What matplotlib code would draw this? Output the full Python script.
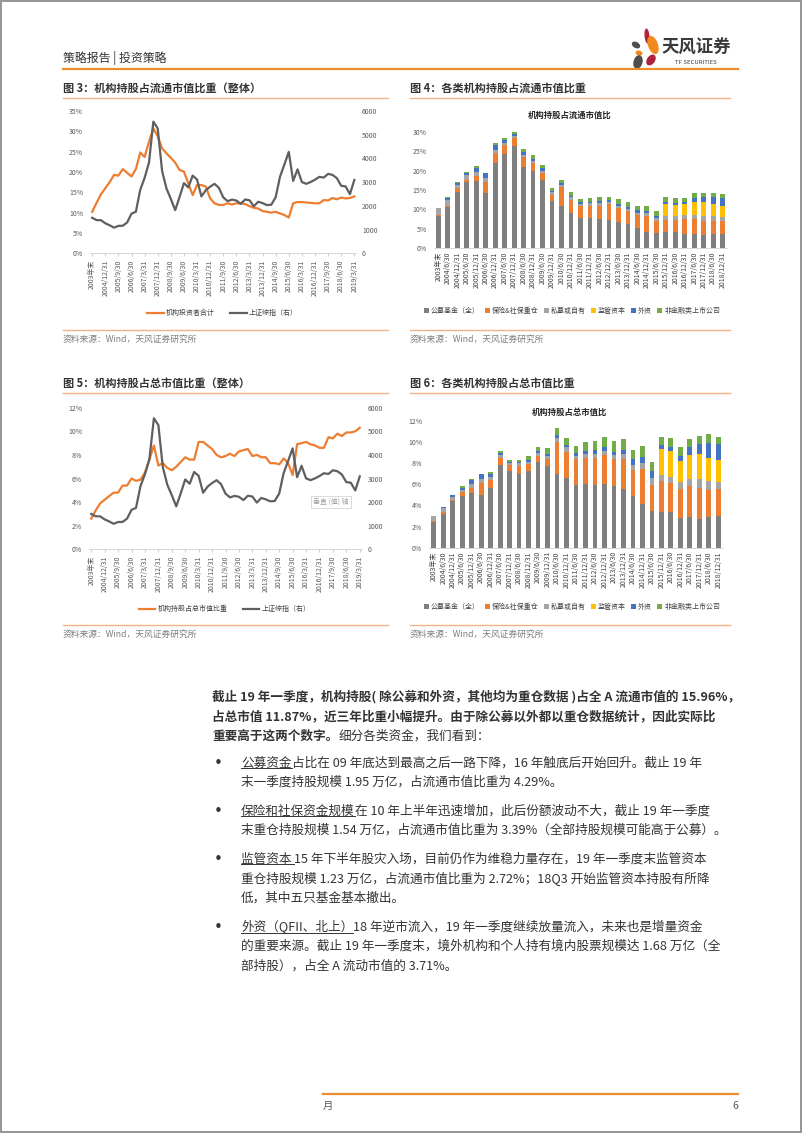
import numpy as np
import matplotlib.pyplot as plt
from matplotlib.patches import Ellipse, Rectangle
from matplotlib.lines import Line2D
from matplotlib.ticker import FuncFormatter

plt.rcParams['font.family'] = ['Noto Sans CJK SC', 'DejaVu Sans']

W, H = 802, 1133

# ---- line charts (quarterly, 2003年末 .. 2019/3/31) ----
line_ticks = ['2003年末', '2004/12/31', '2005/9/30', '2006/6/30', '2007/3/31', '2007/12/31',
              '2008/9/30', '2009/6/30', '2010/3/31', '2010/12/31', '2011/9/30', '2012/6/30',
              '2013/3/31', '2013/12/31', '2014/9/30', '2015/6/30', '2016/3/31', '2016/12/31',
              '2017/9/30', '2018/6/30', '2019/3/31']
inst_float = [10.2, 12.4, 14.5, 16.0, 17.5, 19.3, 19.1, 20.7, 19.8, 18.9, 20.7, 24.8, 23.7,
              27.4, 30.7, 28.8, 25.8, 24.6, 23.5, 22.3, 20.5, 20.1, 17.2, 14.3, 16.8, 16.8,
              16.4, 13.5, 12.3, 11.9, 11.9, 12.3, 12.0, 12.3, 12.3, 12.1, 11.6, 11.2, 11.0,
              10.4, 10.2, 10.0, 10.2, 9.8, 9.4, 8.8, 12.3, 12.6, 12.6, 12.5, 12.4, 12.3, 12.3,
              13.1, 13.0, 13.6, 13.3, 13.7, 13.5, 13.6, 14.0]
inst_total = [2.6, 3.3, 3.9, 4.2, 4.5, 4.8, 4.8, 5.4, 5.4, 6.0, 5.8, 5.9, 6.5, 7.6, 8.8, 7.1,
              7.3, 6.9, 6.7, 7.0, 7.4, 7.8, 7.6, 7.6, 9.1, 9.1, 8.8, 8.5, 8.0, 7.8, 7.9, 8.1,
              7.9, 8.3, 8.4, 8.5, 7.9, 8.0, 7.8, 7.8, 7.3, 7.3, 7.2, 7.7, 7.3, 6.3, 8.9, 9.0,
              9.1, 8.9, 8.8, 8.6, 8.6, 9.5, 9.4, 9.8, 9.6, 9.9, 9.9, 10.0, 10.3]
sse = [1497, 1399, 1396, 1266, 1181, 1081, 1156, 1161, 1299, 1672, 1753, 2675, 3183, 3821,
       5552, 5262, 3473, 2736, 2293, 1821, 2373, 2959, 2779, 3277, 3110, 2398, 2656, 2808,
       2928, 2762, 2359, 2199, 2263, 2225, 2086, 2269, 2237, 1979, 2175, 2116, 2033, 2048,
       2364, 3235, 3748, 4277, 3053, 3539, 3004, 2930, 3005, 3104, 3223, 3192, 3349, 3307,
       3169, 2847, 2821, 2494, 3091]

# ---- stacked bars (half-yearly) ----
bar_dates = ['2003年末', '2004/6/30', '2004/12/31', '2005/6/30', '2005/12/31', '2006/6/30',
             '2006/12/31', '2007/6/30', '2007/12/31', '2008/6/30', '2008/12/31', '2009/6/30',
             '2009/12/31', '2010/6/30', '2010/12/31', '2011/6/30', '2011/12/31', '2012/6/30',
             '2012/12/31', '2013/6/30', '2013/12/31', '2014/6/30', '2014/12/31', '2015/6/30',
             '2015/12/31', '2016/6/30', '2016/12/31', '2017/6/30', '2017/12/31', '2018/6/30',
             '2018/12/31']
series_names = ['公募基金（全）', '保险&社保重仓', '私募或自有', '监管资本', '外资', '非金融类上市公司']
series_colors = ['#7f7f7f', '#ed7d31', '#a5a5a5', '#ffc000', '#4472c4', '#70ad47']

flt_pub = [8.4, 10.5, 14.6, 17.0, 17.4, 14.3, 21.9, 24.3, 26.4, 21.0, 20.0, 17.6, 12.2, 10.9,
           9.2, 7.9, 7.7, 7.5, 7.3, 6.8, 6.2, 5.2, 4.3, 4.0, 4.1, 4.1, 3.8, 3.8, 3.5, 3.8, 3.8]
flt_ins = [0.2, 0.3, 0.8, 0.7, 1.1, 2.7, 2.5, 2.3, 1.9, 2.6, 1.9, 1.7, 1.5, 4.9, 3.2, 3.0, 3.3,
           3.5, 4.1, 3.5, 3.3, 3.4, 4.1, 3.1, 3.2, 3.2, 3.7, 3.7, 3.6, 3.1, 3.3]
flt_pri = [1.7, 1.6, 1.0, 1.1, 1.2, 1.1, 0.9, 0.6, 0.6, 0.4, 0.6, 0.7, 0.7, 0.6, 0.7, 0.6, 0.6,
           0.7, 0.5, 0.7, 0.6, 0.5, 0.6, 0.6, 1.1, 1.1, 1.1, 1.1, 1.1, 1.3, 1.0]
flt_reg = [0] * 24 + [3.0, 2.7, 2.8, 3.4, 3.8, 3.2, 2.9]
flt_for = [0, 0.5, 0.4, 0.5, 1.0, 1.2, 1.3, 0.6, 0.4, 0.7, 0.5, 0.6, 0.4, 0.5, 0.4, 0.3, 0.4,
           0.4, 0.4, 0.4, 0.4, 0.8, 0.7, 0.5, 0.4, 0.6, 0.4, 0.9, 1.3, 1.9, 2.0]
flt_cor = [0, 0.2, 0.2, 0.3, 0.4, 0.2, 0.6, 0.5, 0.6, 0.8, 1.0, 0.8, 0.6, 0.8, 0.9, 0.9, 1.0,
           1.0, 1.0, 1.3, 1.3, 1.0, 1.3, 1.5, 1.3, 1.3, 1.2, 1.4, 1.0, 1.0, 1.0]

tot_pub = [2.4, 3.2, 4.4, 4.9, 5.2, 5.0, 5.7, 7.8, 7.3, 7.0, 7.3, 8.1, 7.7, 7.0, 6.6, 5.9, 6.0,
           5.9, 6.0, 5.8, 5.6, 4.9, 4.1, 3.5, 3.4, 3.35, 2.8, 2.9, 2.7, 2.95, 3.0]
tot_ins = [0.1, 0.2, 0.1, 0.35, 0.5, 1.1, 0.7, 0.7, 0.5, 0.75, 0.6, 0.6, 0.7, 3.0, 2.5, 2.5,
           2.45, 2.6, 2.8, 2.6, 2.8, 2.45, 3.35, 2.45, 2.9, 2.75, 2.8, 2.9, 3.0, 2.5, 2.6]
tot_pri = [0.5, 0.4, 0.3, 0.25, 0.3, 0.4, 0.3, 0.25, 0.2, 0.25, 0.25, 0.3, 0.3, 0.35, 0.4, 0.3,
           0.4, 0.4, 0.4, 0.4, 0.45, 0.45, 0.55, 0.65, 0.6, 0.6, 0.65, 0.75, 0.85, 0.85, 0.65]
tot_reg = [0] * 24 + [2.45, 2.45, 1.95, 2.25, 2.3, 2.2, 2.05]
tot_for = [0, 0.1, 0.2, 0.2, 0.4, 0.5, 0.3, 0.2, 0.15, 0.15, 0.15, 0.2, 0.2, 0.35, 0.25, 0.25,
           0.3, 0.35, 0.35, 0.3, 0.4, 0.6, 0.6, 0.65, 0.35, 0.4, 0.5, 0.7, 0.95, 1.45, 1.5]
tot_cor = [0, 0, 0, 0.1, 0.1, 0, 0.2, 0.2, 0.2, 0.2, 0.4, 0.35, 0.55, 0.6, 0.65, 0.65, 0.85,
           0.85, 0.95, 1.0, 1.0, 0.85, 1.0, 0.85, 0.8, 0.85, 0.8, 0.8, 0.8, 0.8, 0.7]

ORANGE = '#ed7d31'
DARK = '#333333'
TICK = '#595959'

fig = plt.figure(figsize=(W / 100, H / 100), dpi=100)


def fx(x):
    return x / W


def fy(y):
    return 1 - y / H


def box(x0, x1, top, bottom):
    return fig.add_axes([fx(x0), fy(bottom), (x1 - x0) / W, (bottom - top) / H])


def hline(x0, x1, y, color, lw):
    fig.add_artist(Line2D([fx(x0), fx(x1)], [fy(y), fy(y)], color=color, lw=lw,
                          transform=fig.transFigure))


def pct(v, pos):
    return '%d%%' % round(v * 100)


def style_axis(ax, ticklen):
    for s in ['top', 'left', 'right']:
        ax.spines[s].set_visible(False)
    ax.spines['bottom'].set_color('#d0d0d0')
    ax.spines['bottom'].set_linewidth(0.6)
    ax.tick_params(axis='y', length=0, labelsize=5, labelcolor=TICK, pad=5)
    ax.tick_params(axis='x', length=ticklen, color='#d0d0d0', labelsize=5,
                   labelcolor=TICK, pad=2.5, labelrotation=90)
    ax.yaxis.set_major_formatter(FuncFormatter(pct))


def line_chart(x0, x1, top, bottom, left_vals, ymax, step, label, leg_y):
    ax = box(x0, x1, top, bottom)
    n = len(left_vals)
    idx = np.arange(n)
    ax.plot(idx, np.array(left_vals) / 100, color=ORANGE, lw=1.6, zorder=3)
    ax.set_ylim(0, ymax)
    ax.set_yticks(np.arange(0, ymax + 1e-9, step))
    ax.set_xlim(-0.5, n - 0.5)
    ax.set_xticks(idx[::3])
    ax.set_xticklabels(line_ticks)
    style_axis(ax, 2)
    ax2 = ax.twinx()
    ax2.plot(idx, sse, color='#5f5f5f', lw=1.6, zorder=2)
    ax2.set_ylim(0, 6000)
    ax2.set_yticks(range(0, 6001, 1000))
    for s in ['top', 'left', 'right', 'bottom']:
        ax2.spines[s].set_visible(False)
    ax2.tick_params(axis='y', length=0, labelsize=5, labelcolor=TICK, pad=4)
    handles = [Line2D([], [], color=ORANGE, lw=1.6), Line2D([], [], color='#5f5f5f', lw=1.6)]
    fig.legend(handles, [label, '上证综指（右）'], loc='center',
               bbox_to_anchor=(fx((x0 + x1) / 2 - 1), fy(leg_y)), ncol=2, frameon=False,
               fontsize=5, handlelength=2.4, handletextpad=0.3, columnspacing=2.2,
               labelcolor='#404040')
    return ax


def bar_chart(x0, x1, top, bottom, data, ymax, step, title, title_y, leg_y):
    ax = box(x0, x1, top, bottom)
    idx = np.arange(len(bar_dates))
    base = np.zeros(len(bar_dates))
    for vals, name, c in zip(data, series_names, series_colors):
        v = np.array(vals) / 100
        ax.bar(idx, v, width=0.5, bottom=base, color=c, label=name, zorder=2)
        base += v
    ax.set_ylim(0, ymax)
    ax.set_yticks(np.arange(0, ymax + 1e-9, step))
    ax.set_xlim(-0.5, len(bar_dates) - 0.5)
    ax.set_xticks(idx)
    ax.set_xticklabels(bar_dates)
    style_axis(ax, 0)
    for lab in ax.get_xticklabels():
        lab.set_color('#404040')
    fig.text(fx(570), fy(title_y), title, fontsize=6, weight='bold', color='#222222',
             ha='center', va='center')
    ax.legend(loc='center', bbox_to_anchor=(fx(572), fy(leg_y)),
              bbox_transform=fig.transFigure, ncol=6, frameon=False, fontsize=5,
              handlelength=0.7, handleheight=0.7, handletextpad=0.3, columnspacing=0.75,
              labelcolor='#404040')
    return ax


def chart_frame(x0, x1, title, title_y, line_y, src_y):
    fig.text(fx(x0), fy(title_y), title, fontsize=8, weight='bold', color=DARK,
             ha='left', va='center')
    hline(x0, x1, line_y, '#f4b183', 1.0)
    hline(x0, x1, src_y - 9, '#f4b183', 1.0)
    fig.text(fx(x0), fy(src_y), '资料来源：Wind，天风证券研究所', fontsize=6.3,
             color='#7f7f7f', ha='left', va='center')


# ---- page chrome ----
fig.add_artist(Rectangle((0.0008, 0.0006), 0.9984, 0.9988, transform=fig.transFigure,
                         fill=False, ec='#8c8c8c', lw=1.3))
fig.text(fx(63), fy(58), '策略报告 | 投资策略', fontsize=8.6, color=DARK, ha='left', va='center')
hline(63, 738, 68.5, '#ee8b2b', 1.6)
hline(323, 738, 1094, '#ee8b2b', 1.6)
fig.text(fx(323), fy(1106), '月', fontsize=7.5, color=TICK, ha='left', va='center')
fig.text(fx(738), fy(1106), '6', fontsize=7.5, color=TICK, ha='right', va='center')

logo = fig.add_axes([fx(628), fy(70), 32 / W, 44 / H])
logo.set_xlim(628, 660)
logo.set_ylim(70, 26)
logo.axis('off')
petals = [((647, 36), 5, 15, -5, '#b0213b'), ((653, 45), 10, 19, -20, '#f08a1c'),
          ((636, 45), 9, 6, 30, '#4d4d4d'), ((639, 53), 7, 5, 15, '#f08a1c'),
          ((638, 62), 9, 14, 15, '#4d4d4d'), ((651, 60), 8, 12, 35, '#b0213b')]
for c, w, h, a, col in petals:
    logo.add_patch(Ellipse(c, w, h, angle=a, color=col, lw=0))
fig.text(fx(662), fy(48), '天风证券', fontsize=12.5, weight='bold', color='#3a3a3a',
         ha='left', va='center')
fig.text(fx(675), fy(63), 'TF SECURITIES', fontsize=4.3, color='#3a3a3a',
         ha='left', va='center')

# ---- figure 3 ----
chart_frame(63, 388, '图 3：机构持股占流通市值比重（整体）', 88, 98, 339)
line_chart(90, 356.5, 111, 253.3, inst_float, 0.35, 0.05, '机构投资者合计', 313)

# ---- figure 4 ----
chart_frame(410, 730, '图 4：各类机构持股占流通市值比重', 88, 98, 339)
bar_chart(433.6, 727.4, 131.7, 248.3,
          [flt_pub, flt_ins, flt_pri, flt_reg, flt_for, flt_cor], 0.30, 0.05,
          '机构持股占流通市值比', 115, 311)

# ---- figure 5 ----
chart_frame(63, 388, '图 5：机构持股占总市值比重（整体）', 383, 393.5, 634)
line_chart(89, 362, 407.7, 549.3, inst_total, 0.12, 0.02, '机构持股占总市值比重', 609)
fig.text(fx(331), fy(502), '垂直 (值) 轴', fontsize=5, color='#a0a0a0', ha='center',
         va='center', bbox=dict(boxstyle='square,pad=0.35', fc='white', ec='#cccccc', lw=0.5))

# ---- figure 6 ----
chart_frame(410, 730, '图 6：各类机构持股占总市值比重', 383, 393.5, 634)
bar_chart(429, 723, 421, 547.7,
          [tot_pub, tot_ins, tot_pri, tot_reg, tot_for, tot_cor], 0.12, 0.02,
          '机构持股占总市值比', 412, 607)

# ---- body text ----
renderer = fig.canvas.get_renderer()
FS = 9.1


def put(x, y, s, weight='normal', underline=False):
    t = fig.text(fx(x), fy(y), s, fontsize=FS, weight=weight, color=DARK,
                 ha='left', va='center')
    bb = t.get_window_extent(renderer)
    if underline:
        fig.add_artist(Line2D([bb.x0 / W, bb.x1 / W], [(bb.y0 + 1.5) / H] * 2,
                              color=DARK, lw=0.7, transform=fig.transFigure))
    return bb.x1


put(212, 697, '截止 19 年一季度，机构持股( 除公募和外资，其他均为重仓数据 )占全 A 流通市值的 15.96%，',
    'bold')
put(212, 716.5, '占总市值 11.87%，近三年比重小幅提升。由于除公募以外都以重仓数据统计，因此实际比',
    'bold')
xe = put(212, 736, '重要高于这两个数字。', 'bold')
put(xe, 736, '细分各类资金，我们看到：')

bullets = [
    (763, '公募资金', ['占比在 09 年底达到最高之后一路下降，16 年触底后开始回升。截止 19 年',
                    '末一季度持股规模 1.95 万亿，占流通市值比重为 4.29%。']),
    (811, '保险和社保资金规模', ['在 10 年上半年迅速增加，此后份额波动不大，截止 19 年一季度',
                          '末重仓持股规模 1.54 万亿，占流通市值比重为 3.39%（全部持股规模可能高于公募）。']),
    (859, '监管资本 ', ['15 年下半年股灾入场，目前仍作为维稳力量存在，19 年一季度末监管资本',
                     '重仓持股规模 1.23 万亿，占流通市值比重为 2.72%；18Q3 开始监管资本持股有所降',
                     '低，其中五只基金基本撤出。']),
    (927, '外资（QFII、北上）', ['18 年逆市流入，19 年一季度继续放量流入，未来也是增量资金',
                           '的重要来源。截止 19 年一季度末，境外机构和个人持有境内股票规模达 1.68 万亿（全',
                           '部持股），占全 A 流动市值的 3.71%。']),
]
for y, head, rest in bullets:
    fig.text(fx(214), fy(y), '•', fontsize=11, color=DARK, ha='left', va='center',
             family='DejaVu Sans')
    xe = put(241, y, head, underline=True)
    put(xe, y, rest[0])
    for k, s in enumerate(rest[1:]):
        put(241, y + 19.5 * (k + 1), s)

fig.savefig('out.png', dpi=100)
